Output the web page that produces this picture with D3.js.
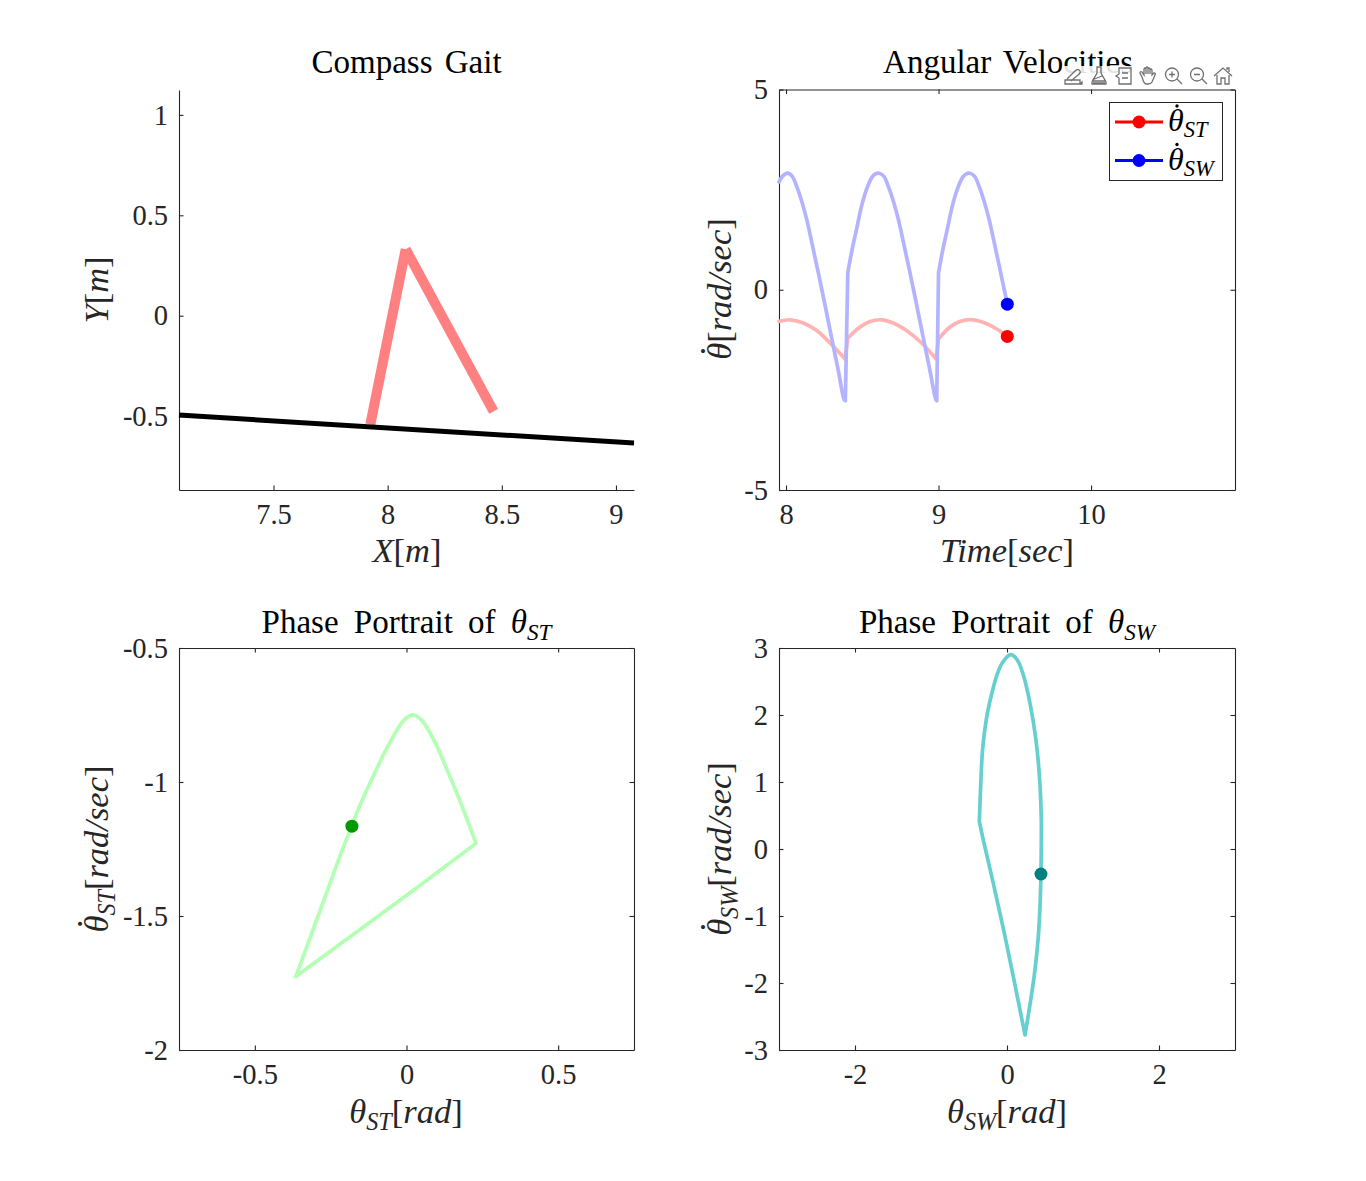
<!DOCTYPE html>
<html><head><meta charset="utf-8">
<script src="https://cdn.jsdelivr.net/npm/d3@7/dist/d3.min.js"></script>
<style>html,body{margin:0;background:#fff}svg{display:block}</style>
</head><body><svg id="c" width="1366" height="1181"></svg>
<script>
// ---- data ----
const legX = [7.924, 8.079, 8.464];
const legY = [-0.542, 0.331, -0.476];
const groundX = [7.086, 9.079];
const groundY = [-0.495, -0.634];

const timeST = [7.954,8.026,8.113,8.201,8.289,8.387,8.405,8.485,8.551,8.627,8.703,8.79,8.889,8.984,9.0,9.075,9.14,9.224,9.305,9.382,9.451];
const velST  = [-0.79,-0.75,-0.83,-1.02,-1.33,-1.73,-1.21,-0.93,-0.79,-0.75,-0.83,-1.02,-1.33,-1.73,-1.23,-0.93,-0.79,-0.75,-0.83,-0.98,-1.165];
const cornersST = [5,6,13,14];

const timeSW = [7.954,7.976,8.011,8.041,8.07,8.103,8.136,8.168,8.235,8.306,8.346,8.38,8.389,8.405,8.431,8.464,8.496,8.529,8.562,8.585,8.61,8.642,8.671,8.704,8.737,8.769,8.836,8.907,8.947,8.981,8.988,9.0,9.026,9.059,9.091,9.124,9.157,9.18,9.205,9.237,9.266,9.299,9.332,9.364,9.431,9.451];
const velSW  = [2.69,2.83,2.91,2.83,2.58,2.21,1.75,1.2,0,-1.33,-2.08,-2.73,-2.77,0.42,0.96,1.54,2.10,2.52,2.80,2.89,2.91,2.83,2.58,2.21,1.75,1.2,0,-1.33,-2.08,-2.73,-2.77,0.42,0.96,1.54,2.10,2.52,2.80,2.89,2.91,2.83,2.58,2.21,1.75,1.2,0,-0.36];
const cornersSW = [12,13,30,31];

const phaseSTx = [-0.18,-0.162,-0.129,-0.096,-0.063,-0.031,-0.003,0.024,0.052,0.073,0.101,0.134,0.167,0.2,0.229,0.024,-0.365,-0.272,-0.212,-0.18];
const phaseSTy = [-1.165,-1.11,-1.025,-0.945,-0.87,-0.805,-0.763,-0.75,-0.772,-0.808,-0.868,-0.955,-1.045,-1.14,-1.229,-1.403,-1.726,-1.44,-1.254,-1.165];
const cornersPhaseST = [14,16];

const phaseSWx = [0.447,0.451,0.451,0.434,0.399,0.346,0.28,0.214,0.136,0.049,-0.06,-0.125,-0.2,-0.27,-0.32,-0.346,-0.364,-0.312,-0.18,-0.049,0.083,0.237,0.312,0.368,0.412,0.434,0.447];
const phaseSWy = [-0.373,0.06,0.458,0.955,1.45,1.90,2.30,2.60,2.82,2.90,2.78,2.62,2.32,1.95,1.50,0.955,0.407,0.134,-0.512,-1.184,-1.906,-2.776,-2.254,-1.806,-1.309,-0.861,-0.373];
const cornersPhaseSW = [16,21];

const ticks1x = [7.5,8,8.5,9], ticks1y = [-0.5,0,0.5,1];
const ticks2x = [8,9,10],     ticks2y = [-5,0,5];
const ticks3x = [-0.5,0,0.5], ticks3y = [-2,-1.5,-1,-0.5];
const ticks4x = [-2,0,2],     ticks4y = [-3,-2,-1,0,1,2,3];

// ---- drawing ----
const svg = d3.select('#c');
const FONT = '"Liberation Serif"', INK = '#262626';

function panel(x0,x1,y0,y1,dx,dy,tx,ty,box){
  const x = d3.scaleLinear().domain(dx).range([x0,x1]);
  const y = d3.scaleLinear().domain(dy).range([y1,y0]);
  const g = svg.append('g');
  const style = s => { s.selectAll('path,line').attr('stroke',INK).attr('stroke-width',1.1);
    s.selectAll('text').attr('font-family',FONT).attr('font-size',28.5).attr('fill',INK); };
  const fmt = d=>String(d);
  g.append('g').attr('transform',`translate(0,${y1})`).call(d3.axisBottom(x).tickValues(tx).tickFormat(fmt).tickSizeInner(-4.5).tickSizeOuter(0).tickPadding(14)).call(style);
  g.append('g').attr('transform',`translate(${x0},0)`).call(d3.axisLeft(y).tickValues(ty).tickFormat(fmt).tickSizeInner(-4.5).tickSizeOuter(0).tickPadding(11)).call(style);
  if(box){
    g.append('g').attr('transform',`translate(0,${y0})`).call(d3.axisTop(x).tickValues(tx).tickFormat('').tickSizeInner(-4.5).tickSizeOuter(0)).call(style);
    g.append('g').attr('transform',`translate(${x1},0)`).call(d3.axisRight(y).tickValues(ty).tickFormat('').tickSizeInner(-4.5).tickSizeOuter(0)).call(style);
  }
  return {x,y};
}

function curve(p,xs,ys,corners,color){
  const gen = d3.line().x(i=>p.x(xs[i])).y(i=>p.y(ys[i])).curve(d3.curveCatmullRom.alpha(0.5));
  const cuts = [0,...corners,xs.length-1];
  let d='';
  for(let k=0;k<cuts.length-1;k++) d+=gen(d3.range(cuts[k],cuts[k+1]+1));
  svg.append('path').attr('d',d).attr('fill','none').attr('stroke',color).attr('stroke-width',3.7)
     .attr('stroke-linecap','round').attr('stroke-linejoin','round');
}
const dot=(cx,cy,c)=>svg.append('circle').attr('cx',cx).attr('cy',cy).attr('r',6.5).attr('fill',c);

// math text: parts are [string, style]: '' roman, 'i' italic, 's' italic subscript, 'd' dot over the previous theta
function mathText(x,y,parts,size,anchor,rot,fill,wordGap){
  const t = svg.append('text').attr('font-family',FONT).attr('font-size',size).attr('fill',fill||INK)
    .attr('text-anchor',anchor||'middle').attr('transform',`translate(${x},${y})`+(rot?` rotate(${rot})`:''));
  if(wordGap) t.attr('word-spacing',wordGap);
  let dyNext=0, dxNext=0, sub=false;
  parts.forEach(([s,k])=>{
    const sp=t.append('tspan').text(s);
    if(k==='i'||k==='s') sp.attr('font-style','italic');
    if(k==='s') sp.attr('font-size',size*0.7);
    let dy=dyNext, dx=dxNext; dyNext=0; dxNext=0;
    if(k==='d'){ dx+=-0.36*size; dy+=-0.74*size; dyNext=0.74*size; dxNext=0.11*size; }
    if(k==='s'&&!sub){ dy+=size*0.2; sub=true; }
    else if(k!=='s'&&sub){ dy-=size*0.2; sub=false; }
    if(dy) sp.attr('dy',dy);
    if(dx) sp.attr('dx',dx);
  });
  return t;
}
const th='\u03B8';
const thd=[[th,'i'],['.','d']];

// Compass gait
const p1 = panel(179,634,90,490,[7.086,9.079],[-0.868,1.124],ticks1x,ticks1y,false);
const legLine = d3.line().x(i=>p1.x(legX[i])).y(i=>p1.y(legY[i]));
svg.append('path').attr('d',legLine([0,1])).attr('stroke','#ff8080').attr('stroke-width',10).attr('fill','none');
svg.append('path').attr('d',legLine([2,1])).attr('stroke','#ff8080').attr('stroke-width',10).attr('fill','none');
svg.append('path').attr('d',d3.line().x(i=>p1.x(groundX[i])).y(i=>p1.y(groundY[i]))([0,1])).attr('stroke','#000').attr('stroke-width',5).attr('fill','none');

// Angular velocities
const p2 = panel(779,1235,89.5,490,[7.954,10.944],[-5,5],ticks2x,ticks2y,true);
curve(p2,timeST,velST,cornersST,'#ffb3b3');
curve(p2,timeSW,velSW,cornersSW,'#b3b3ff');
dot(p2.x(timeST[timeST.length-1]),p2.y(velST[velST.length-1]),'#ff0000');
dot(p2.x(timeSW[timeSW.length-1]),p2.y(velSW[velSW.length-1]),'#0000ff');

// Phase portraits
const p3 = panel(179,634,648,1050,[-0.75,0.75],[-2,-0.5],ticks3x,ticks3y,true);
curve(p3,phaseSTx,phaseSTy,cornersPhaseST,'#b3ffb3');
dot(p3.x(phaseSTx[0]),p3.y(phaseSTy[0]),'#009900');
const p4 = panel(779,1235,648,1050,[-3,3],[-3,3],ticks4x,ticks4y,true);
curve(p4,phaseSWx,phaseSWy,cornersPhaseSW,'#66cfcf');
dot(p4.x(phaseSWx[0]),p4.y(phaseSWy[0]),'#008080');

// Titles
const TS=33;
mathText(406.5,73,[['Compass Gait','']],TS,'middle',0,'#000',4);
mathText(1008,73,[['Angular Velocities','']],TS,'middle',0,'#000',4);
mathText(406.5,633,[['Phase Portrait of ',''],[th,'i'],['ST','s']],TS,'middle',0,'#000',7);
mathText(1007,633,[['Phase Portrait of ',''],[th,'i'],['SW','s']],TS,'middle',0,'#000',7);

// Axis labels
const LS=34.5;
mathText(407,562,[['X','i'],['[',''],['m','i'],[']','']],LS);
mathText(1007,562,[['Time','i'],['[',''],['sec','i'],[']','']],LS);
mathText(406,1123,[[th,'i'],['ST','s'],['[',''],['rad','i'],[']','']],LS);
mathText(1007,1123,[[th,'i'],['SW','s'],['[',''],['rad','i'],[']','']],LS);
mathText(108,290,[['Y','i'],['[',''],['m','i'],[']','']],LS,'middle',-90);
mathText(731,289,[...thd,['[',''],['rad/sec','i'],[']','']],LS,'middle',-90);
mathText(108,849,[...thd,['ST','s'],['[',''],['rad/sec','i'],[']','']],LS,'middle',-90);
mathText(731,849,[...thd,['SW','s'],['[',''],['rad/sec','i'],[']','']],LS,'middle',-90);

// Legend
svg.append('rect').attr('x',1109.5).attr('y',102.5).attr('width',113).attr('height',78).attr('fill','#fff').attr('stroke',INK).attr('stroke-width',1);
[[122,'#ff0000','ST'],[160.5,'#0000ff','SW']].forEach(([y,c,s])=>{
  svg.append('line').attr('x1',1115).attr('x2',1163).attr('y1',y).attr('y2',y).attr('stroke',c).attr('stroke-width',3);
  dot(1139,y,c);
  mathText(1168,y+9,[[th,'i'],[s,'s']],32,'start',0,'#000');
  // accent dot of the legend's theta
  svg.append('circle').attr('cx',1177).attr('cy',y+9-25).attr('r',1.7).attr('fill','#000');
});

// Toolbar
svg.append('rect').attr('x',1062).attr('y',66).attr('width',173).attr('height',22).attr('fill','#fff').attr('fill-opacity',0.88);
const icons = [
 'M-8 8H7V4H-8Z M-6 3L2-5Q5-8 7-5Q8-3 5-1L-2 5 M7 8l2-2v2z',
 'M-2-9H2V-3L7 6V8H-7V6L-2-3Z M-7 4L3 0 M-6 5H6 M-6 7H6',
 'M-5-8H7V8H-5V2L-8 0L-5-2Z M-2-3H4 M-2 2H4',
 'M-6 1L-8-3Q-8-5-6-4L-4-1V-7Q-3-9-2-7V-2V-8Q-1-10 0-8V-2V-7Q1-9 2-7V-2V-6Q3-8 4-6V-1L6-3Q8-3 7-1L4 6Q3 8 0 8H-2Q-4 8-6 1Z',
 'M-1-8A6.5 6.5 0 1 0-1 5A6.5 6.5 0 1 0-1-8Z M4 3L9 8 M-4-1.5H2 M-1-4.5V1.5',
 'M-1-8A6.5 6.5 0 1 0-1 5A6.5 6.5 0 1 0-1-8Z M4 3L9 8 M-4-1.5H2',
 'M-9 0L0-8L9 0 M-6-1V8H-2V2H2V8H6V-1 M4-6V-8H6V-4'
];
const iconX=[1073,1099,1124,1148,1173,1198,1223];
icons.forEach((d,i)=>svg.append('path').attr('d',d).attr('transform',`translate(${iconX[i]},76)`)
  .attr('fill','none').attr('stroke','#707070').attr('stroke-width',1.3));
</script></body></html>
